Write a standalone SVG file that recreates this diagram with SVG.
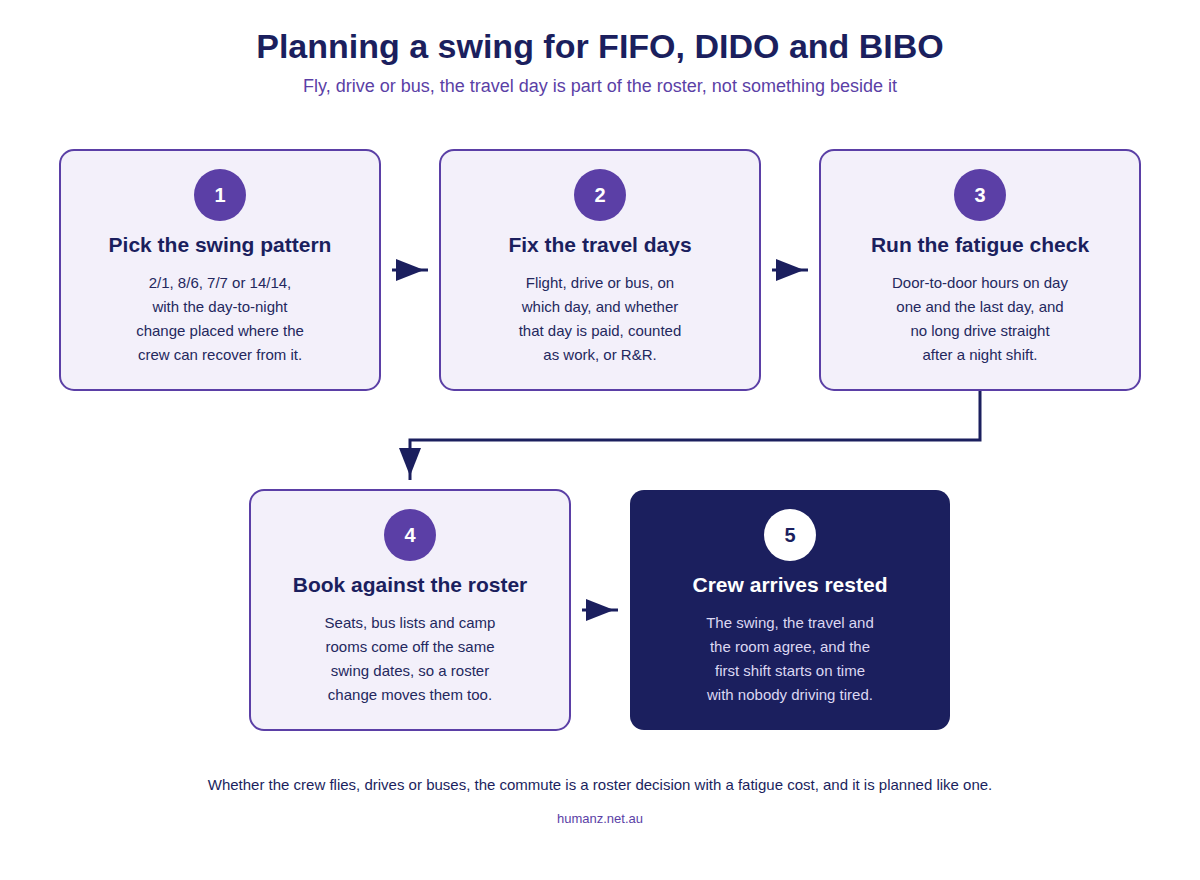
<svg xmlns="http://www.w3.org/2000/svg" width="1200" height="880" viewBox="0 0 1200 880">
<style>
text{font-family:"Liberation Sans",Arial,sans-serif;text-anchor:middle}
.title{font-size:34px;font-weight:bold;fill:#1b1f5e}
.sub{font-size:18px;fill:#5b3fa6}
.box{fill:#f3f0fa;stroke:#5b3fa6;stroke-width:2}
.boxd{fill:#1b1f5e}
.num{fill:#5b3fa6}
.numt{font-size:20px;font-weight:bold;fill:#ffffff}
.h{font-size:21px;font-weight:bold;fill:#1b1f5e}
.b{font-size:15px;fill:#24285e}
.hd{font-size:21px;font-weight:bold;fill:#ffffff}
.bd{font-size:15px;fill:#dcd8f2}
.conn{fill:none;stroke:#1b1f5e;stroke-width:3}
.foot{font-size:15px;fill:#1b1f5e}
.site{font-size:13px;fill:#5b3fa6}
</style>
<defs>
<marker id="ah" markerUnits="userSpaceOnUse" markerWidth="30" markerHeight="24" viewBox="0 0 30 24" refX="32" refY="12" orient="auto">
<path d="M0,1 L28,12 L0,23 z" fill="#1b1f5e"/>
</marker>
</defs>
<rect width="1200" height="880" fill="#ffffff"/>
<text class="title" x="600" y="58">Planning a swing for FIFO, DIDO and BIBO</text>
<text class="sub" x="600" y="92">Fly, drive or bus, the travel day is part of the roster, not something beside it</text>

<g id="connectors">
<path class="conn" d="M392,270 L428,270" marker-end="url(#ah)"/>
<path class="conn" d="M772,270 L808,270" marker-end="url(#ah)"/>
<path class="conn" d="M980,390 L980,440 L410,440 L410,480" marker-end="url(#ah)"/>
<path class="conn" d="M582,610 L618,610" marker-end="url(#ah)"/>
</g>

<g id="node1">
<rect class="box" x="60" y="150" width="320" height="240" rx="14"/>
<circle class="num" cx="220" cy="195" r="26"/>
<text class="numt" x="220" y="202">1</text>
<text class="h" x="220" y="252">Pick the swing pattern</text>
<text class="b" x="220" y="288">2/1, 8/6, 7/7 or 14/14,</text>
<text class="b" x="220" y="312">with the day-to-night</text>
<text class="b" x="220" y="336">change placed where the</text>
<text class="b" x="220" y="360">crew can recover from it.</text>
</g>

<g id="node2">
<rect class="box" x="440" y="150" width="320" height="240" rx="14"/>
<circle class="num" cx="600" cy="195" r="26"/>
<text class="numt" x="600" y="202">2</text>
<text class="h" x="600" y="252">Fix the travel days</text>
<text class="b" x="600" y="288">Flight, drive or bus, on</text>
<text class="b" x="600" y="312">which day, and whether</text>
<text class="b" x="600" y="336">that day is paid, counted</text>
<text class="b" x="600" y="360">as work, or R&amp;R.</text>
</g>

<g id="node3">
<rect class="box" x="820" y="150" width="320" height="240" rx="14"/>
<circle class="num" cx="980" cy="195" r="26"/>
<text class="numt" x="980" y="202">3</text>
<text class="h" x="980" y="252">Run the fatigue check</text>
<text class="b" x="980" y="288">Door-to-door hours on day</text>
<text class="b" x="980" y="312">one and the last day, and</text>
<text class="b" x="980" y="336">no long drive straight</text>
<text class="b" x="980" y="360">after a night shift.</text>
</g>

<g id="node4">
<rect class="box" x="250" y="490" width="320" height="240" rx="14"/>
<circle class="num" cx="410" cy="535" r="26"/>
<text class="numt" x="410" y="542">4</text>
<text class="h" x="410" y="592">Book against the roster</text>
<text class="b" x="410" y="628">Seats, bus lists and camp</text>
<text class="b" x="410" y="652">rooms come off the same</text>
<text class="b" x="410" y="676">swing dates, so a roster</text>
<text class="b" x="410" y="700">change moves them too.</text>
</g>

<g id="node5">
<rect class="boxd" x="630" y="490" width="320" height="240" rx="14"/>
<circle cx="790" cy="535" r="26" fill="#ffffff"/>
<text class="numt" x="790" y="542" style="fill:#1b1f5e">5</text>
<text class="hd" x="790" y="592">Crew arrives rested</text>
<text class="bd" x="790" y="628">The swing, the travel and</text>
<text class="bd" x="790" y="652">the room agree, and the</text>
<text class="bd" x="790" y="676">first shift starts on time</text>
<text class="bd" x="790" y="700">with nobody driving tired.</text>
</g>

<text class="foot" x="600" y="790">Whether the crew flies, drives or buses, the commute is a roster decision with a fatigue cost, and it is planned like one.</text>
<text class="site" x="600" y="823">humanz.net.au</text>
</svg>
